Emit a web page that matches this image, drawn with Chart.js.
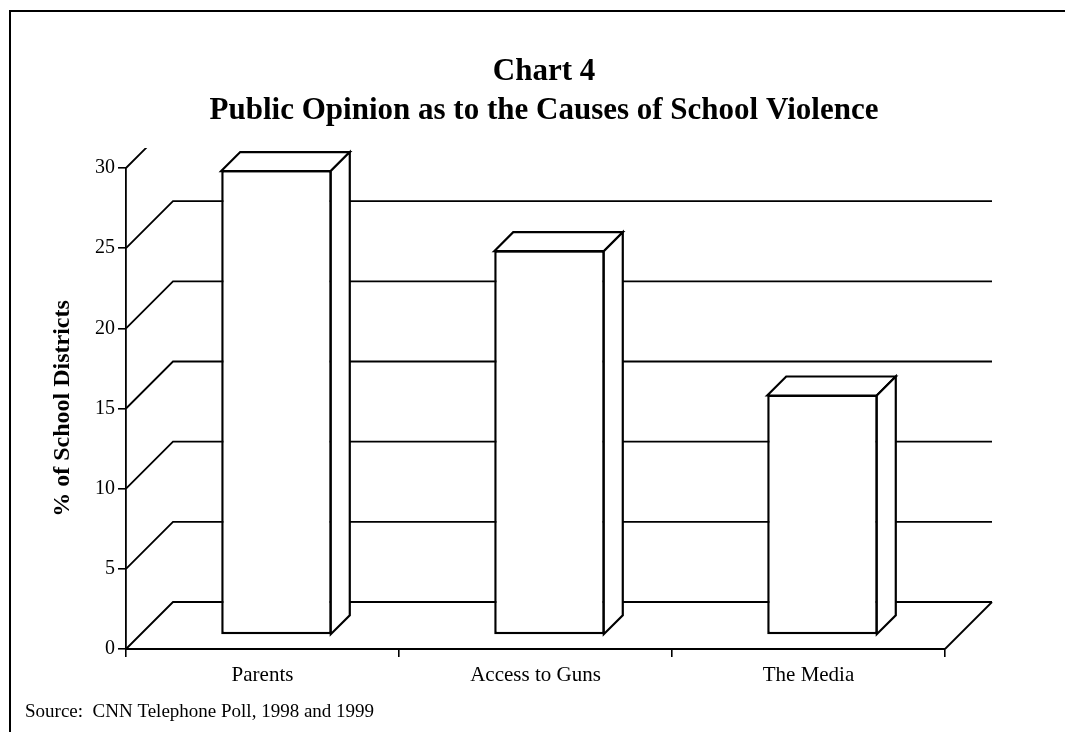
<!DOCTYPE html>
<html><head><meta charset="utf-8">
<script src="https://cdn.jsdelivr.net/npm/chart.js@4.4.1/dist/chart.umd.min.js"></script>
<style>
html,body{margin:0;padding:0;background:#fff;}
#wrap{position:relative;width:1065px;height:732px;overflow:hidden;background:#fff;}
#frame{position:absolute;left:9px;top:10px;width:1100px;height:800px;border-top:2px solid #000;border-left:2px solid #000;pointer-events:none;}
canvas{position:absolute;left:0;top:0;}
</style></head><body>
<div id="wrap"><canvas id="c" width="1065" height="732"></canvas><div id="frame"></div></div>
<script>
// ---- data ----
const categories = ['Parents', 'Access to Guns', 'The Media'];
const values = [29, 24, 15];
const yTicks = [0, 5, 10, 15, 20, 25, 30];
const titleLines = ['Chart 4', 'Public Opinion as to the Causes of School Violence'];
const yAxisTitle = '% of School Districts';
const sourceNote = 'Source:  CNN Telephone Poll, 1998 and 1999';

const FAMILY = '"Liberation Serif", "DejaVu Serif", serif';
const WALL = 47, BAR_OFF = 14, BAR_DEPTH = 19;

const threeD = {
  id: 'threeD',
  beforeDatasetsDraw(chart) {
    const {ctx, chartArea: a, scales: {y}} = chart;
    ctx.save();
    ctx.beginPath(); ctx.rect(0, a.top - 20, chart.width, chart.height); ctx.clip();
    ctx.strokeStyle = '#000'; ctx.lineWidth = 1.8;
    yTicks.forEach(v => {
      const py = y.getPixelForValue(v);
      ctx.beginPath();
      ctx.moveTo(a.left, py);
      ctx.lineTo(a.left + WALL, py - WALL);
      ctx.lineTo(a.right + WALL, py - WALL);
      ctx.stroke();
    });
    ctx.beginPath();
    ctx.moveTo(a.right, a.bottom);
    ctx.lineTo(a.right + WALL, a.bottom - WALL);
    ctx.stroke();
    ctx.restore();
  },
  beforeDatasetDraw(chart) {
    chart.ctx.save();
    chart.ctx.translate(BAR_OFF, -BAR_OFF);
  },
  afterDatasetDraw(chart, args) {
    const ctx = chart.ctx;
    ctx.restore();
    args.meta.data.forEach(bar => {
      const p = bar.getProps(['x', 'y', 'base', 'width'], true);
      const l = p.x - p.width / 2 + BAR_OFF, r = p.x + p.width / 2 + BAR_OFF - 1;
      const t = p.y - BAR_OFF + 1, b = p.base - BAR_OFF, d = BAR_DEPTH;
      ctx.save();
      ctx.fillStyle = '#fff'; ctx.strokeStyle = '#000'; ctx.lineWidth = 2.2; ctx.lineJoin = 'miter';
      ctx.beginPath();
      ctx.moveTo(l, t); ctx.lineTo(l + d, t - d); ctx.lineTo(r + d, t - d); ctx.lineTo(r, t);
      ctx.closePath(); ctx.fill(); ctx.stroke();
      ctx.beginPath();
      ctx.moveTo(r, t); ctx.lineTo(r + d, t - d); ctx.lineTo(r + d, b - d); ctx.lineTo(r, b);
      ctx.closePath(); ctx.fill(); ctx.stroke();
      ctx.restore();
    });
  },
  afterDraw(chart) {
    const ctx = chart.ctx;
    ctx.save();
    ctx.fillStyle = '#000';
    ctx.textAlign = 'center'; ctx.textBaseline = 'middle';
    ctx.font = 'bold 31px ' + FAMILY;
    ctx.fillText(titleLines[0], 544, 72);
    ctx.fillText(titleLines[1], 544, 111);
    ctx.textAlign = 'left';
    ctx.font = '19px ' + FAMILY;
    ctx.fillText(sourceNote, 25, 712);
    ctx.restore();
  }
};

new Chart(document.getElementById('c'), {
  type: 'bar',
  data: {
    labels: categories,
    datasets: [{
      data: values,
      backgroundColor: '#fff',
      borderColor: '#000',
      borderWidth: 2.5,
      borderSkipped: false,
      barPercentage: 0.405,
      categoryPercentage: 1,
      clip: false
    }]
  },
  options: {
    responsive: false,
    animation: false,
    events: [],
    layout: { padding: { left: 0, top: 168, right: 120, bottom: 43 } },
    plugins: { legend: { display: false }, title: { display: false }, tooltip: { enabled: false } },
    scales: {
      x: {
        offset: true,
        afterFit(s) { s.height = 40; },
        ticks: { color: '#000', padding: 6, font: { family: FAMILY, size: 21 } },
        grid: { offset: true, drawOnChartArea: false, tickLength: 8, color: '#000', lineWidth: 1.6 },
        border: { color: '#000', width: 2 }
      },
      y: {
        min: 0, max: 30,
        afterFit(s) { s.width = 126; },
        afterBuildTicks(s) { s.ticks = yTicks.map(v => ({ value: v })); },
        ticks: { color: '#000', padding: 3, font: { family: FAMILY, size: 20 } },
        grid: { drawOnChartArea: false, tickLength: 8, color: '#000', lineWidth: 1.6 },
        border: { color: '#000', width: 1.8 },
        title: {
          display: true, text: yAxisTitle, color: '#000',
          font: { family: FAMILY, size: 24, weight: 'bold' },
          padding: { top: 48.6, bottom: 0 }
        }
      }
    }
  },
  plugins: [threeD]
});
</script>
</body></html>
